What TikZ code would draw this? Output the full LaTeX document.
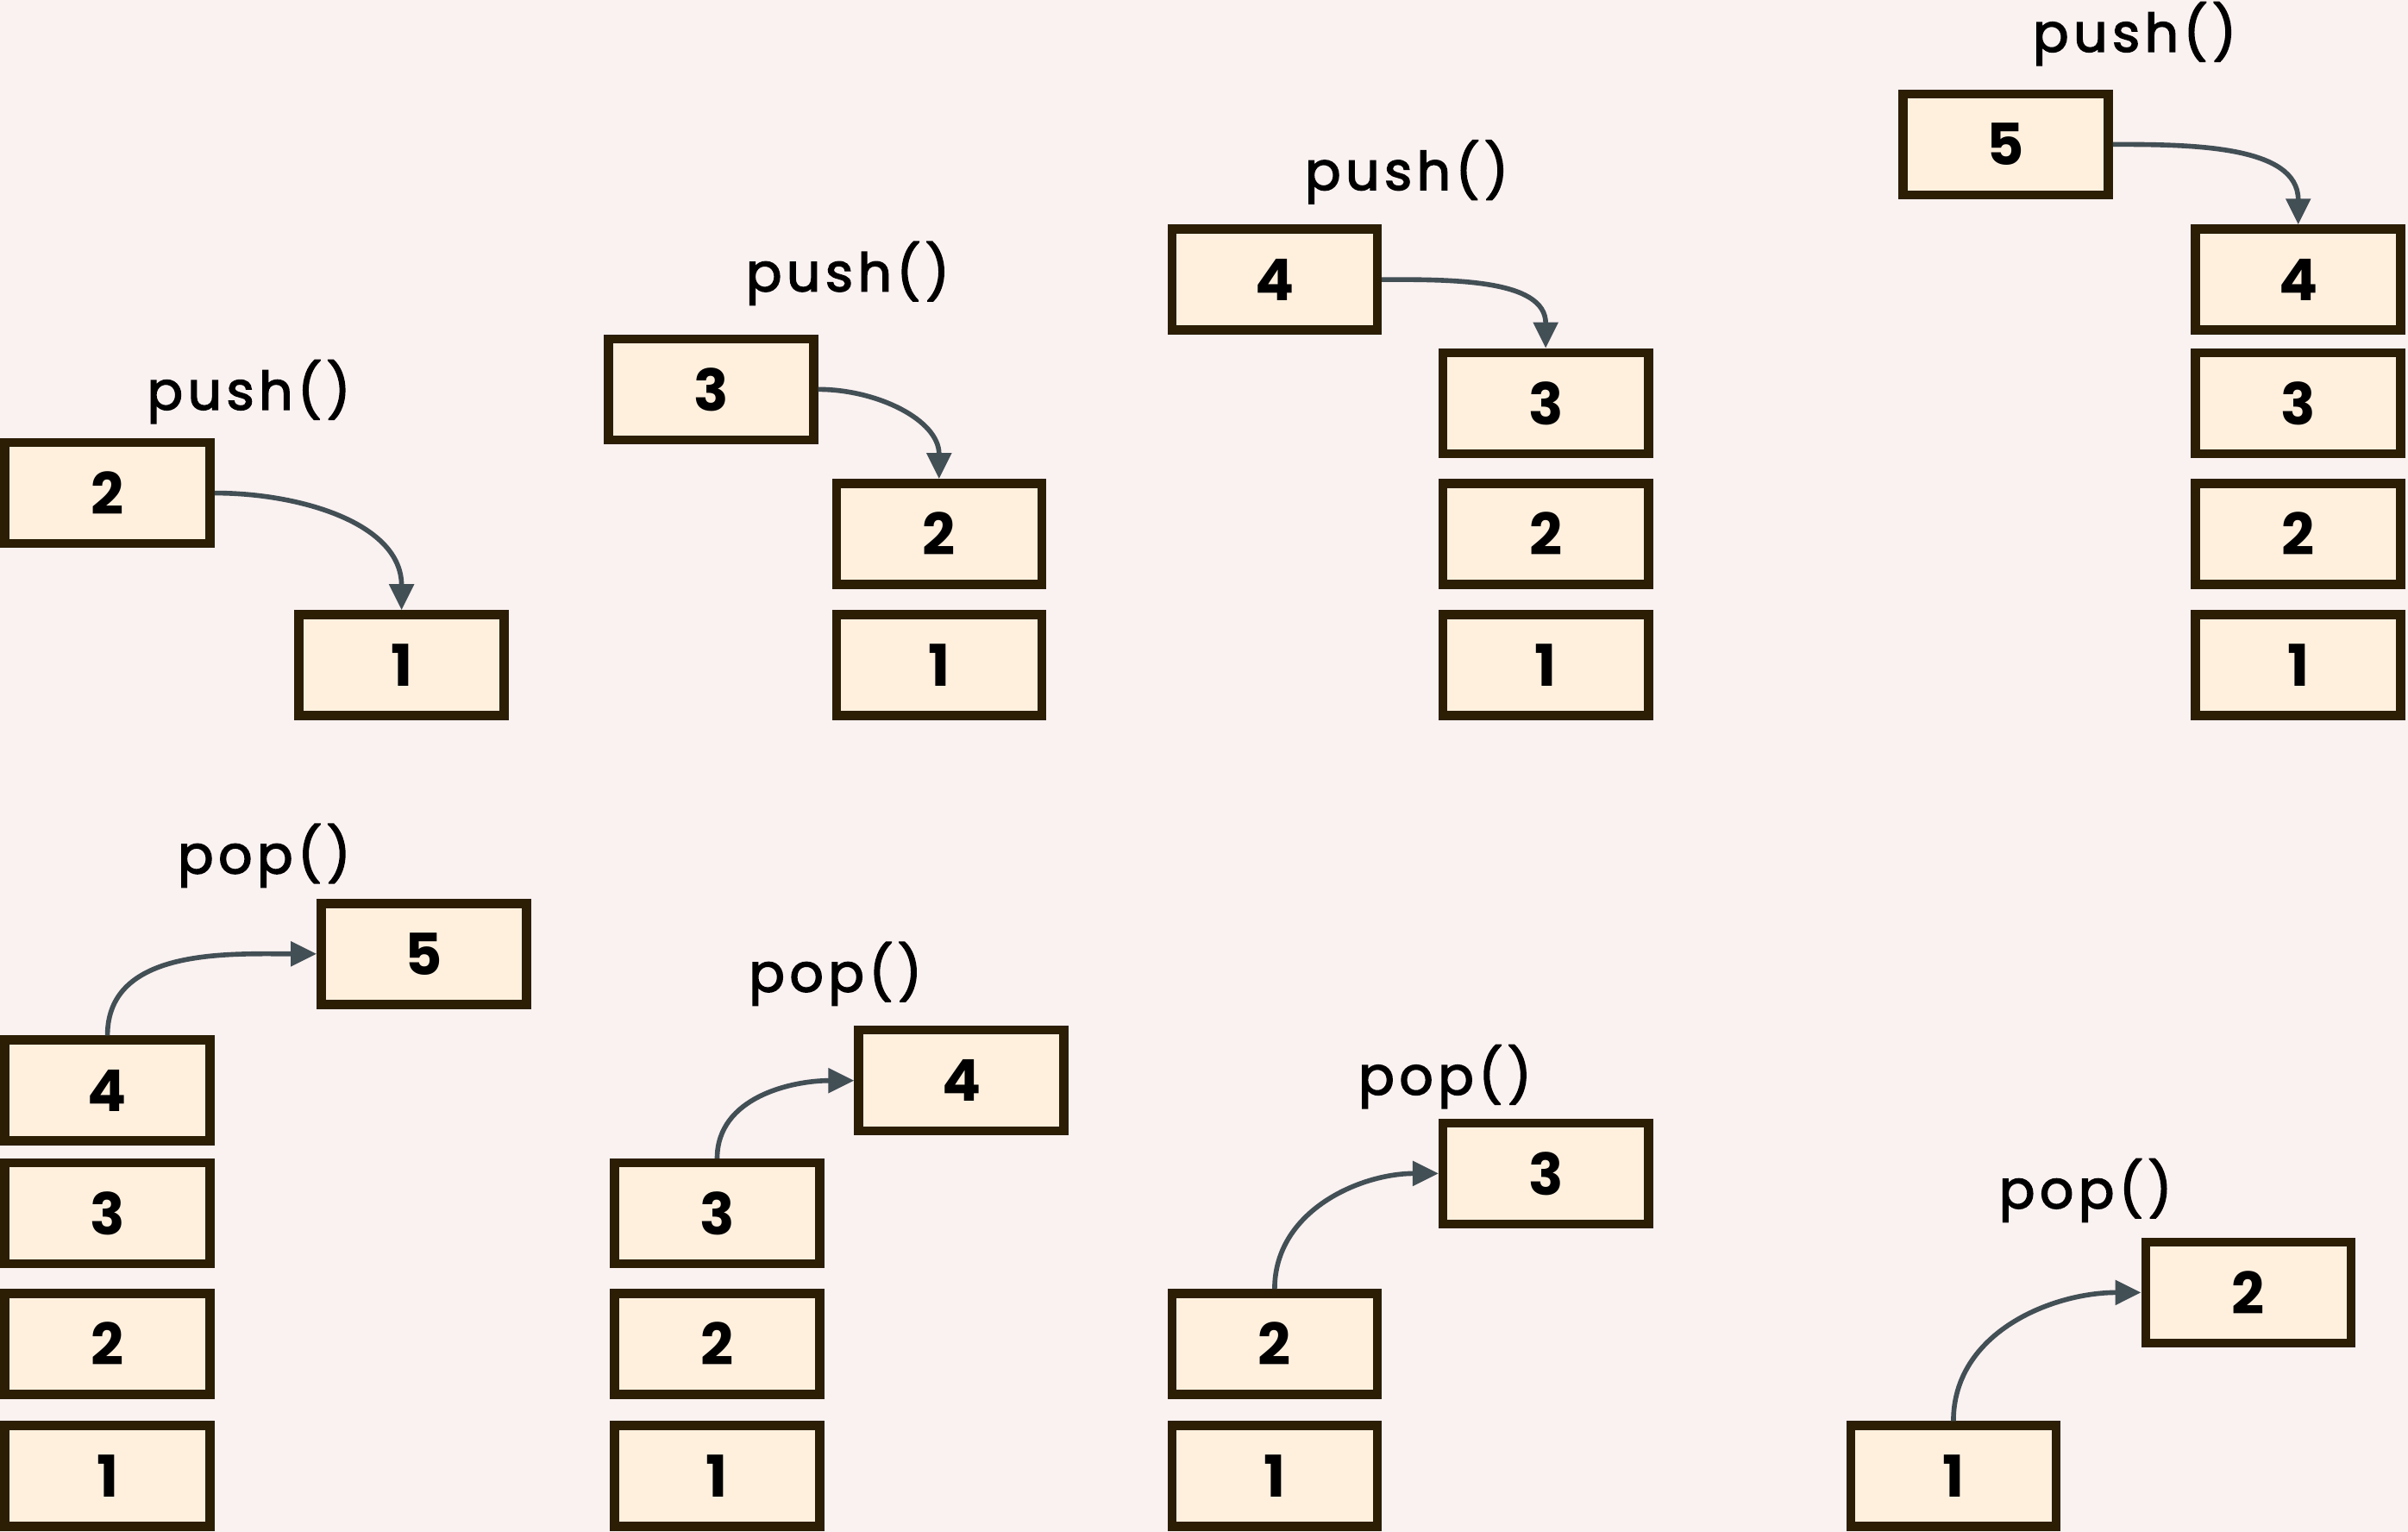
\documentclass[tikz,border=0pt]{standalone}
\usepackage{fontspec}
\setmainfont{Poppins}
\newfontfamily\opfont{Poppins}[FakeBold=2.5,LetterSpace=9]
\usetikzlibrary{arrows.meta}
\definecolor{bgpink}{HTML}{FAF1F1}
\definecolor{cellfill}{HTML}{FFF0DE}
\definecolor{celledge}{HTML}{2B1E05}
\definecolor{linkgray}{HTML}{424F55}

\begin{document}
\begin{tikzpicture}[
cell/.style={draw=celledge,fill=cellfill,line width=3pt,minimum width=2.38cm,minimum height=1.17cm,inner sep=0pt,font=\fontsize{19}{22}\selectfont\bfseries},
opname/.style={inner sep=0pt,font=\fontsize{17.5}{20}\opfont},
link/.style={draw=linkgray,line width=1.6pt,-{Triangle[length=0.3cm,width=0.28cm]}}
]
\fill[bgpink] (0,0) rectangle (27.92,17.76);

% push 2
\node[opname] (l1) at (2.885,13.219) {push()};
\node[cell] (s1n2) at (1.246,12.044) {2};
\node[cell] (s1n1) at (4.656,10.050) {1};
\draw[link] (s1n2.east) to[out=0,in=90] (s1n1.north);

% push 3
\node[opname] (l2) at (9.829,14.591) {push()};
\node[cell] (s2n3) at (8.244,13.246) {3};
\node[cell] (s2n2) at (10.888,11.572) {2};
\node[cell] (s2n1) at (10.888,10.050) {1};
\draw[link] (s2n3.east) to[out=0,in=90] (s2n2.north);

% push 4
\node[opname] (l3) at (16.310,15.766) {push()};
\node[cell] (s3n4) at (14.779,14.519) {4};
\node[cell] (s3n3) at (17.922,13.086) {3};
\node[cell] (s3n2) at (17.922,11.572) {2};
\node[cell] (s3n1) at (17.922,10.050) {1};
\draw[link] (s3n4.east) to[out=0,in=90] (s3n3.north);

% push 5
\node[opname] (l4) at (24.750,17.368) {push()};
\node[cell] (s4n5) at (23.255,16.086) {5};
\node[cell] (s4n4) at (26.647,14.519) {4};
\node[cell] (s4n3) at (26.647,13.086) {3};
\node[cell] (s4n2) at (26.647,11.572) {2};
\node[cell] (s4n1) at (26.647,10.050) {1};
\draw[link] (s4n5.east) to[out=0,in=90] (s4n4.north);

% pop 5
\node[opname] (l5) at (3.063,7.842) {pop()};
\node[cell] (s5n5) at (4.914,6.702) {5};
\node[cell] (s5n4) at (1.246,5.118) {4};
\node[cell] (s5n3) at (1.246,3.693) {3};
\node[cell] (s5n2) at (1.246,2.180) {2};
\node[cell] (s5n1) at (1.246,0.648) {1};
\draw[link] (s5n4.north) to[out=90,in=180] (s5n5.west);

% pop 4
\node[opname] (l6) at (9.686,6.471) {pop()};
\node[cell] (s6n4) at (11.147,5.233) {4};
\node[cell] (s6n3) at (8.315,3.693) {3};
\node[cell] (s6n2) at (8.315,2.180) {2};
\node[cell] (s6n1) at (8.315,0.648) {1};
\draw[link] (s6n3.north) to[out=90,in=180] (s6n4.west);

% pop 3
\node[opname] (l7) at (16.755,5.278) {pop()};
\node[cell] (s7n3) at (17.922,4.156) {3};
\node[cell] (s7n2) at (14.779,2.180) {2};
\node[cell] (s7n1) at (14.779,0.648) {1};
\draw[link] (s7n2.north) to[out=90,in=180] (s7n3.west);

% pop 2
\node[opname] (l8) at (24.181,3.960) {pop()};
\node[cell] (s8n2) at (26.068,2.776) {2};
\node[cell] (s8n1) at (22.649,0.648) {1};
\draw[link] (s8n1.north) to[out=90,in=180] (s8n2.west);

\end{tikzpicture}
\end{document}
